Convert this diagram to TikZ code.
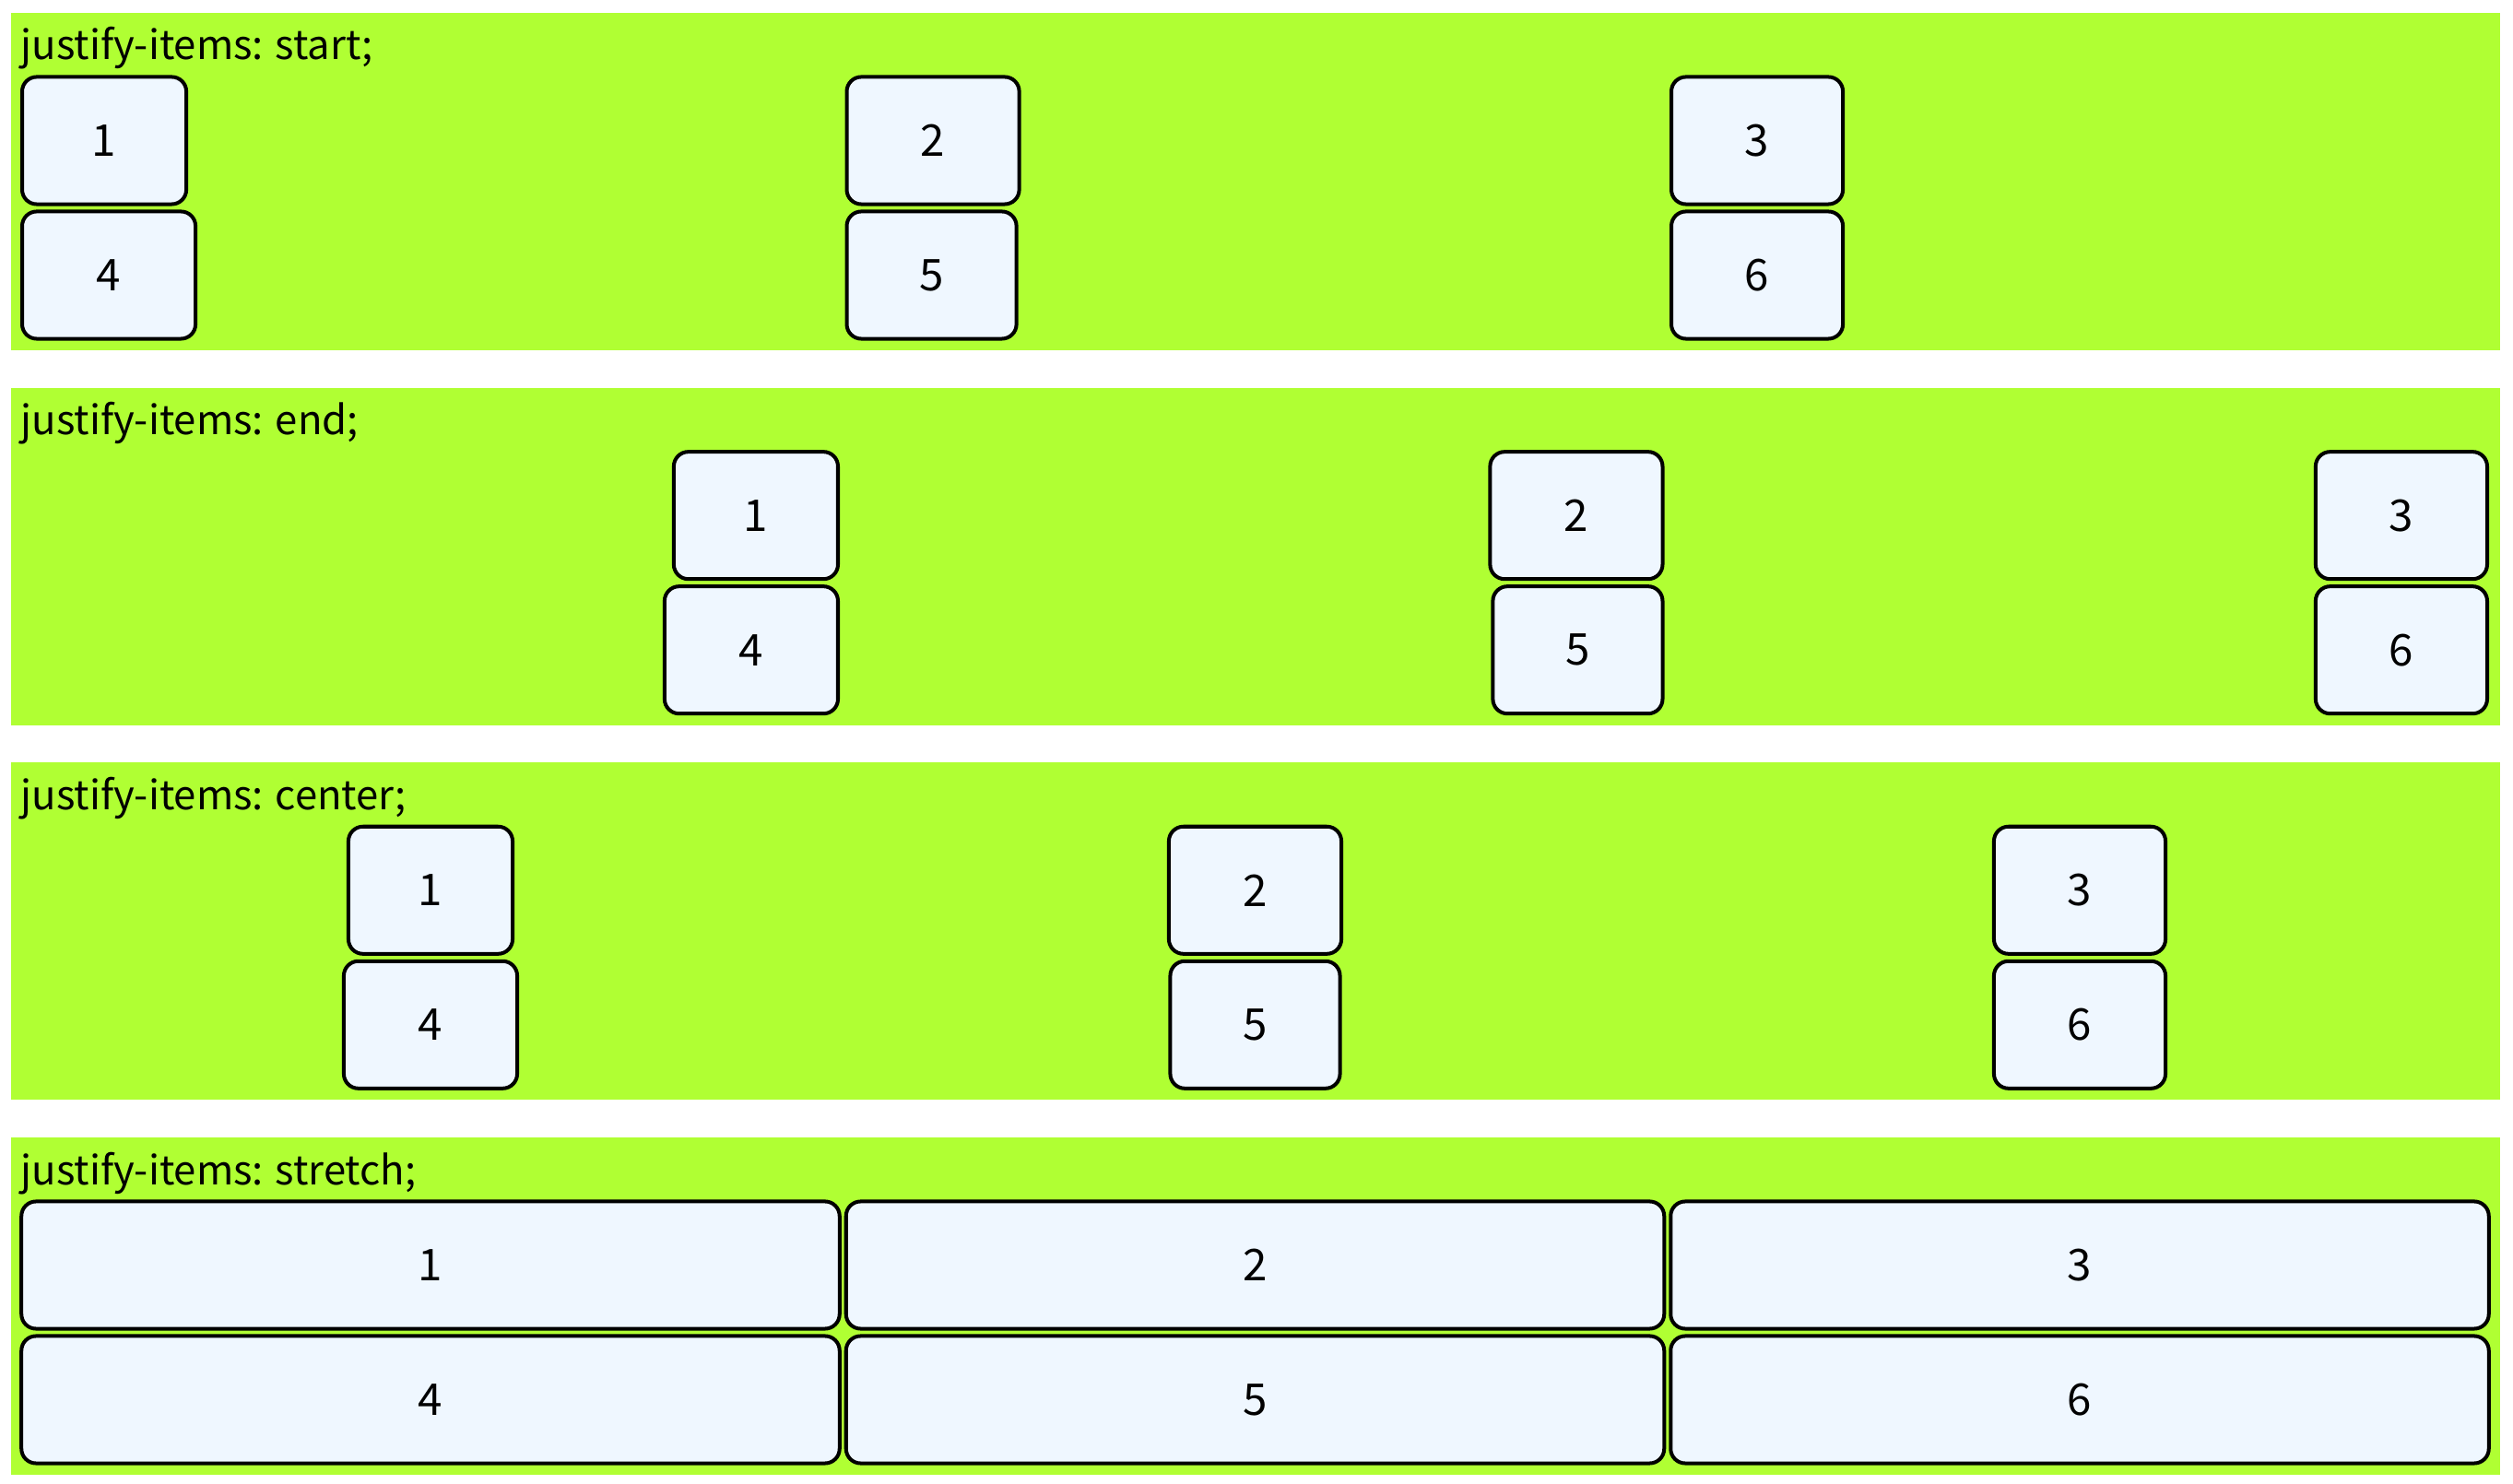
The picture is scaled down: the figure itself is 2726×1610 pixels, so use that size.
\documentclass[tikz,border=0pt]{standalone}
\usepackage{fontspec}
\setmainfont{Noto Sans CJK KR}
\usepackage{tikz}

\definecolor{gridgreen}{HTML}{B0FF33}
\definecolor{itembg}{HTML}{EFF7FF}

\tikzset{
  panel/.style={fill=gridgreen},
  caption/.style={anchor=base west, inner sep=0pt, font=\fontsize{12.4}{15}\selectfont},
  item/.style={draw, line width=1.14pt, fill=itembg, rounded corners=4.5pt,
    minimum height=1.38cm, inner sep=0pt, font=\fontsize{13.5}{15}\selectfont}
}

\begin{document}
\begin{tikzpicture}[x=0.01cm, y=-0.01cm]
    \useasboundingbox (0,0) rectangle (2726,1610);

    % Panels
    \foreach \mode/\p in {start/0, end/1, center/2, stretch/3} {
      \pgfmathsetmacro{\top}{14+406.7*\p}
      \fill[panel] (12,\top) rectangle (2712,\top+366);
      \node[caption] (cap-\mode) at (22,\top+51) {justify-items: \mode;};
    }

    % Items
    \foreach \d/\w in {1/1.78, 2/1.87, 3/1.86, 4/1.88, 5/1.84, 6/1.86} {
      \pgfmathtruncatemacro{\cl}{mod(\d-1,3)}
      \pgfmathtruncatemacro{\rw}{div(\d-1,3)}
      \pgfmathsetmacro{\xs}{22+894.5*\cl}
      \pgfmathsetmacro{\yc}{152.5+146*\rw}
      \node[item, minimum width=\w cm, anchor=west] (start-\d) at (\xs,\yc) {\d};
      \node[item, minimum width=\w cm, anchor=east] (end-\d) at (\xs+889,\yc+406.7) {\d};
      \node[item, minimum width=\w cm] (center-\d) at (\xs+445,\yc+813.3) {\d};
      \node[item, minimum width=8.87cm] (stretch-\d) at (\xs+445,\yc+1220) {\d};
    }
\end{tikzpicture}
\end{document}
